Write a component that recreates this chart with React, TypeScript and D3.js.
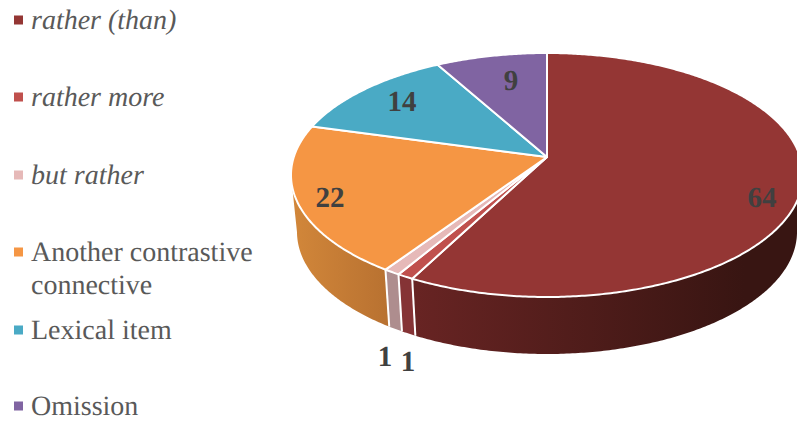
import React from "react";
import * as d3 from "d3";

// Chart values, clockwise from twelve o'clock
const categories = ["rather (than)", "rather more", "but rather", "Another contrastive connective", "Lexical item", "Omission"];
const values = [64, 1, 1, 22, 14, 9];
const topColors = ["#943634", "#c0504d", "#e6b9b8", "#f59644", "#4aaac5", "#8064a2"];
const sideColorsNear = ["#682423", "#853335", "#ae8d8e", "#d2873a", "#3a8299", "#604b7a"];
const sideColorsFar = ["#381512", "#853335", "#ae8d8e", "#b97231", "#3a8299", "#604b7a"];

const legendRows = [
  { lines: ["rather (than)"], italic: true, y: 20 },
  { lines: ["rather more"], italic: true, y: 97 },
  { lines: ["but rather"], italic: true, y: 175 },
  { lines: ["Another contrastive", "connective"], italic: false, y: 252 },
  { lines: ["Lexical item"], italic: false, y: 330 },
  { lines: ["Omission"], italic: false, y: 406 },
];
const labelAnchors = [
  [762, 198],
  [408, 362],
  [385, 357],
  [330, 198],
  [402, 102],
  [511, 81],
];

const WIDTH = 797;
const HEIGHT = 421;

// The tilted disc: rim ellipses for the top face and the base of the wall
const top = { cx: 547, cy: 175, rx: 256, ry: 122 };
const base = { cx: 547, cy: 232, rx: 250, ry: 122 };
// Perspective shift of the disc's centre, as a fraction of ry
const shift = (157 - 175) / 122;

type Ellipse = typeof top;

// Projects a clock angle on the unit disc to the given ellipse
function project(angle: number, radius: number, e: Ellipse): [number, number] {
  const x = radius * Math.sin(angle);
  const y = -radius * Math.cos(angle);
  const w = 1 + shift * y;
  const px = (Math.sqrt(1 - shift * shift) * x) / w;
  const py = (y + shift) / w;
  return [e.cx + e.rx * px, e.cy + e.ry * py];
}

function sampleAngles(a0: number, a1: number): number[] {
  const n = Math.max(2, Math.ceil((a1 - a0) / 0.01));
  return d3.range(n + 1).map((i) => a0 + ((a1 - a0) * i) / n);
}

const pieLayout = d3.pie<number>().sort(null).value((d) => d).startAngle(0).endAngle(2 * Math.PI);
const arcs = pieLayout(values);
const path = d3.line<[number, number]>();

function topPath(a0: number, a1: number): string {
  const rim = sampleAngles(a0, a1).map((a) => project(a, 1, top));
  return path([project(0, 0, top), ...rim])! + "Z";
}

// Front-facing part of a slice's wall, or null when it faces away
function wallAngles(a0: number, a1: number): number[] | null {
  const seen = sampleAngles(a0, a1).filter((a) => project(a, 1, top)[1] >= top.cy);
  return seen.length > 1 ? seen : null;
}

function wallPath(angles: number[]): string {
  const upper = angles.map((a) => project(a, 1, top));
  const lower = angles.map((a) => project(a, 1, base)).reverse();
  return path([...upper, ...lower])! + "Z";
}

export default function App() {
  return (
    <svg
      width={WIDTH}
      height={HEIGHT}
      viewBox={`0 0 ${WIDTH} ${HEIGHT}`}
      style={{ position: "absolute", left: 0, top: 0, display: "block", background: "#fff" }}
    >
      <defs>
        {arcs.map((d, i) => {
          const angles = wallAngles(d.startAngle, d.endAngle);
          if (!angles) return null;
          const xs = angles.map((a) => project(a, 1, top)[0]);
          const [x0, x1] = d3.extent(xs) as [number, number];
          return (
            <linearGradient
              key={i}
              id={`wall-${i}`}
              gradientUnits="userSpaceOnUse"
              x1={x0}
              x2={i === 0 ? x0 + (x1 - x0) * 0.85 : x1}
              y1={0}
              y2={0}
            >
              <stop offset="0" stopColor={sideColorsNear[i]} />
              <stop offset="1" stopColor={sideColorsFar[i]} />
            </linearGradient>
          );
        })}
      </defs>

      {/* Walls first, so the top face sits over their upper edge */}
      {arcs.map((d, i) => {
        const angles = wallAngles(d.startAngle, d.endAngle);
        return angles ? <path key={i} d={wallPath(angles)} fill={`url(#wall-${i})`} /> : null;
      })}
      {arcs.map((d, i) => {
        const a = d.startAngle;
        if (project(a, 1, top)[1] < top.cy) return null;
        const [x1, y1] = project(a, 1, top);
        const [x2, y2] = project(a, 1, base);
        return <line key={i} x1={x1} y1={y1} x2={x2} y2={y2} stroke="#fff" strokeWidth={2} />;
      })}

      {arcs.map((d, i) => (
        <path
          key={i}
          d={topPath(d.startAngle, d.endAngle)}
          fill={topColors[i]}
          stroke="#fff"
          strokeWidth={2}
          strokeLinejoin="round"
        />
      ))}

      {values.map((v, i) => (
        <text
          key={i}
          x={labelAnchors[i][0]}
          y={labelAnchors[i][1]}
          textAnchor="middle"
          dominantBaseline="central"
          fontFamily="'Liberation Serif', serif"
          fontWeight="bold"
          fontSize={29}
          fill="#404040"
          textRendering="geometricPrecision"
        >
          {v}
        </text>
      ))}

      {legendRows.map((row, i) => (
        <g key={categories[i]}>
          <rect x={14} y={row.y - 4.5} width={9} height={9} fill={topColors[i]} />
          {row.lines.map((line, j) => (
            <text
              key={line}
              x={31}
              y={row.y + 9 + j * 32.5}
              fontFamily="'Liberation Serif', serif"
              fontStyle={row.italic ? "italic" : "normal"}
              fontSize={28}
              fill="#595959"
              textRendering="geometricPrecision"
            >
              {line}
            </text>
          ))}
        </g>
      ))}
    </svg>
  );
}
